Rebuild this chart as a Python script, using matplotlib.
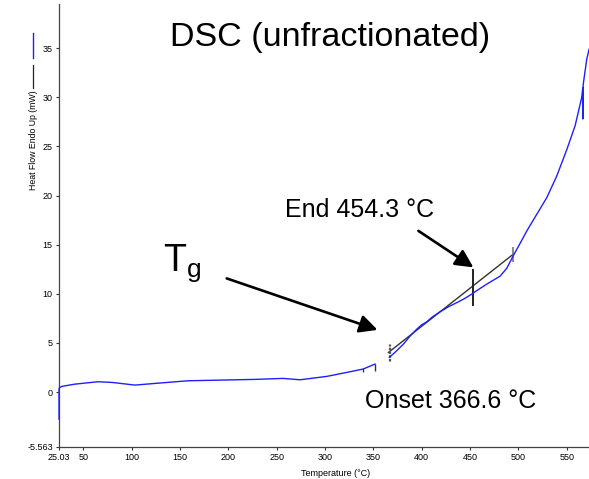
import numpy as np
import matplotlib.pyplot as plt
from matplotlib.lines import Line2D

plt.rcParams['font.family'] = ['Liberation Sans', 'DejaVu Sans']

# heat flow curve
temp = [25.03, 25.03, 25.5, 28.1, 41.6, 65.4, 79.8, 103.6, 124.3, 158.4, 193.6, 227.7,
        256.7, 274.3, 302.2, 326.0, 339.4, 351.8, np.nan,
        366.6, 373.0, 381.1, 388.0, 394.9, 400.0, 405.3, 410.4, 419.0, 428.0, 436.3,
        444.0, 451.8, 455.0, 467.3, 481.1, 488.0, 494.8, 501.0, 508.7, 519.0, 529.4,
        539.7, 550.1, 558.6, 565.5, 566.6, 566.6, 567.0, 570.7, 573.1]
heat = [-2.75, 0.3, 0.45, 0.58, 0.81, 1.05, 0.98, 0.71, 0.88, 1.15, 1.22, 1.29,
        1.39, 1.25, 1.6, 2.07, 2.34, 2.85, np.nan,
        3.53, 4.1, 4.88, 5.7, 6.4, 6.85, 7.15, 7.6, 8.17, 8.7, 9.1,
        9.5, 9.97, 10.2, 10.99, 11.8, 12.6, 13.9, 15.0, 16.4, 18.1, 19.8,
        22.0, 24.7, 27.1, 30.0, 31.0, 27.8, 31.3, 33.9, 34.9]

# tangent between onset and end
tan_t = [365.6, 494.8]
tan_y = [4.03, 14.04]

xticks = [25.03, 50, 100, 150, 200, 250, 300, 350, 400, 450, 500, 550]
xticklabels = ['25.03', '50', '100', '150', '200', '250', '300', '350', '400', '450', '500', '550']
yticks = [-5.563, 0, 5, 10, 15, 20, 25, 30, 35]
yticklabels = ['-5.563', '0', '5', '10', '15', '20', '25', '30', '35']

fig = plt.figure(figsize=(5.89, 4.79), dpi=100)
ax = fig.add_axes([0.1002, 0.0674, 0.8998, 0.9242])

ax.plot(temp, heat, color='#1f1fff', lw=1.0, zorder=3, clip_on=False)
ax.plot(tan_t, tan_y, color='#333333', lw=1.0)

# marker ticks on the curve
ax.vlines([339.4], 2.0, 2.45, color='#333333', lw=1.0)
ax.vlines([351.8], 2.17, 2.85, color='#333333', lw=1.0)
ax.vlines([365.9, 366.9], 3.15, 4.9, color='#555555', lw=0.9, linestyles=(0, (2, 1)))
ax.vlines([453.5], 8.78, 12.5, color='#222222', lw=1.4)
ax.vlines([494.8], 13.19, 14.72, color='#777777', lw=1.2)

ax.set_xlim(25.03, 573)
ax.set_ylim(-5.563, 39.5)
ax.set_xticks(xticks)
ax.set_xticklabels(xticklabels)
ax.set_yticks(yticks)
ax.set_yticklabels(yticklabels)
ax.tick_params(labelsize=6.5, length=2.5, width=0.8, color='#333333', pad=2)
for s in ['top', 'right']:
    ax.spines[s].set_visible(False)
for s in ['left', 'bottom']:
    ax.spines[s].set_color('#444444')
    ax.spines[s].set_linewidth(0.9)

ax.set_xlabel('Temperature (°C)', fontsize=6.5, labelpad=0)
ax.xaxis.set_label_coords((336 - 59) / 530, -0.05)

# y label with the little legend strokes
fig.text(33 / 589, 1 - 140 / 479, 'Heat Flow Endo Up (mW)', rotation=90,
         ha='center', va='center', fontsize=6.3)
fig.add_artist(Line2D([33 / 589, 33 / 589], [1 - 88 / 479, 1 - 65 / 479], color='#222222', lw=0.9))
fig.add_artist(Line2D([33 / 589, 33 / 589], [1 - 58 / 479, 1 - 33 / 479], color='#1f1fff', lw=1.0))

# annotations
ax.text(139.8, 35.2, 'DSC (unfractionated)', fontsize=24.5, ha='left', va='baseline')
ax.text(258.7, 17.77, 'End 454.3 °C', fontsize=18, ha='left', va='baseline')
ax.text(341.5, -1.63, 'Onset 366.6 °C', fontsize=18, ha='left', va='baseline')
ax.text(132.9, 12.34, r'$\mathregular{T_g}$', fontsize=27, ha='left', va='baseline')

arrow = dict(arrowstyle='-|>,head_length=0.9,head_width=0.45', color='black', lw=1.9,
             shrinkA=0, shrinkB=0, mutation_scale=12)
ax.annotate('', xy=(354.4, 6.33), xytext=(198.4, 11.57), arrowprops=arrow)
ax.annotate('', xy=(453.5, 12.69), xytext=(396.6, 16.41), arrowprops=arrow)

fig.savefig('out.png', dpi=100)
